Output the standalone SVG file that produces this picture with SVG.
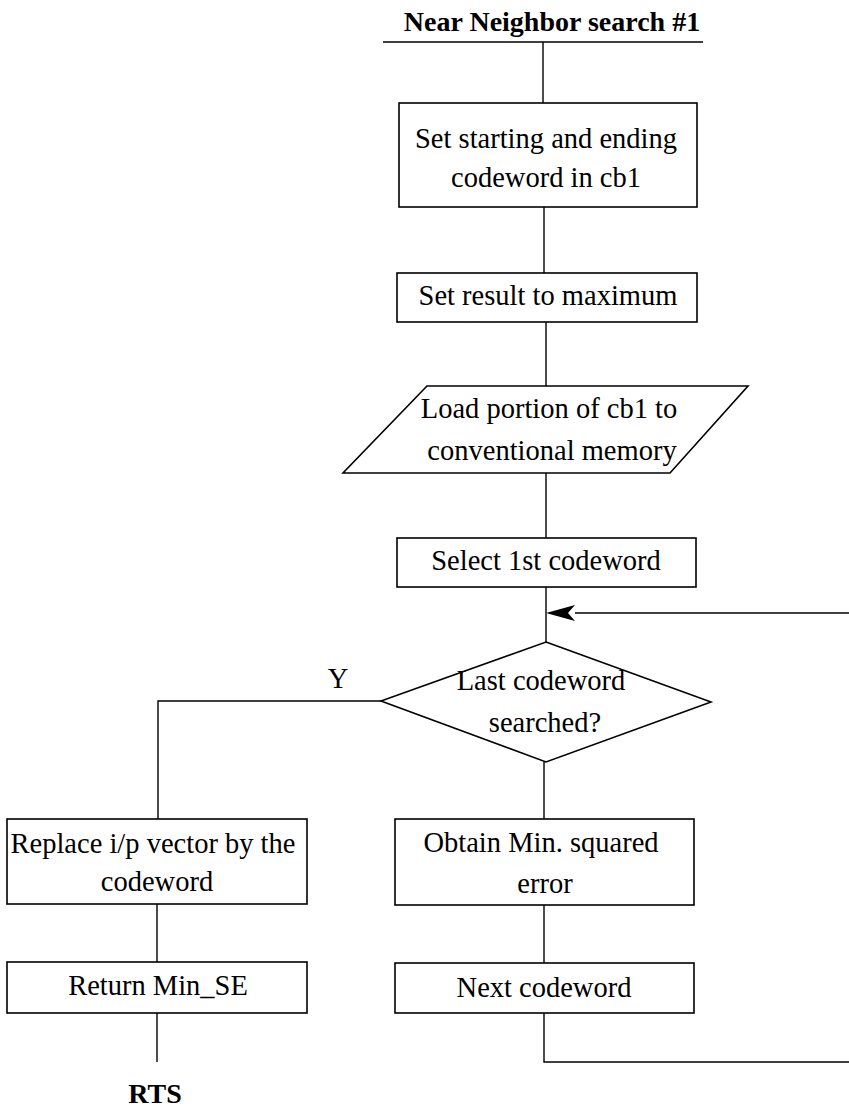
<svg xmlns="http://www.w3.org/2000/svg" width="849" height="1112" viewBox="0 0 849 1112">
  <style>
    .shape { fill: #ffffff; stroke: #000000; stroke-width: 1.6; }
    .wire { fill: none; stroke: #000000; stroke-width: 1.4; }
    .label { font-family: "Liberation Serif", "Times New Roman", serif; font-size: 28.5px; fill: #000000; text-anchor: middle; }
    .heading { font-family: "Liberation Serif", "Times New Roman", serif; font-size: 28px; font-weight: bold; fill: #000000; text-anchor: middle; }
  </style>
  <defs>
    <marker id="arrowhead" markerUnits="userSpaceOnUse" markerWidth="32" markerHeight="20" refX="0" refY="10" orient="auto-start-reverse">
      <path d="M0,10 L29,2 L22,10 L29,18 Z" fill="#000000"/>
    </marker>
  </defs>
  <rect width="849" height="1112" fill="#ffffff"/>

  <!-- connectors -->
  <g id="connectors">
    <line class="wire" x1="383" y1="42" x2="703" y2="42"/>
    <line class="wire" x1="543" y1="42" x2="543" y2="103"/>
    <line class="wire" x1="544" y1="207" x2="544" y2="273"/>
    <line class="wire" x1="546" y1="322" x2="546" y2="386"/>
    <line class="wire" x1="546" y1="473" x2="546" y2="538"/>
    <line class="wire" x1="546" y1="587" x2="546" y2="642"/>
    <!-- loop back from "Next codeword" -->
    <polyline class="wire" points="544,1013 544,1062 849,1062"/>
    <line class="wire" x1="849" y1="613" x2="575" y2="613"/>
    <path d="M546,613 L575,605 L568,613 L575,621 Z" fill="#000000"/>
    <!-- Y branch -->
    <polyline class="wire" points="381,701 158,701 158,819"/>
    <line class="wire" x1="157" y1="904" x2="157" y2="962"/>
    <line class="wire" x1="157" y1="1013" x2="157" y2="1062"/>
    <line class="wire" x1="544" y1="762" x2="544" y2="819"/>
    <line class="wire" x1="544" y1="905" x2="544" y2="963"/>
  </g>

  <g id="title">
    <text class="heading" x="552" y="31">Near Neighbor search #1</text>
  </g>

  <g id="set-range">
    <rect class="shape" x="399" y="103" width="298" height="104"/>
    <text class="label" x="546" y="148">Set starting and ending</text>
    <text class="label" x="546" y="187">codeword in cb1</text>
  </g>

  <g id="set-result">
    <rect class="shape" x="397" y="273" width="300" height="49"/>
    <text class="label" x="548" y="305">Set result to maximum</text>
  </g>

  <g id="load-portion">
    <polygon class="shape" points="427,386 748,386 670,473 343,473"/>
    <text class="label" x="549" y="418">Load portion of cb1 to</text>
    <text class="label" x="552" y="460">conventional memory</text>
  </g>

  <g id="select-first">
    <rect class="shape" x="397" y="538" width="299" height="49"/>
    <text class="label" x="546" y="570">Select 1st codeword</text>
  </g>

  <g id="last-check">
    <polygon class="shape" points="546,642 711,702 546,762 381,701"/>
    <text class="label" x="541" y="690">Last codeword</text>
    <text class="label" x="545" y="732">searched?</text>
    <text class="label" x="338" y="688">Y</text>
  </g>

  <g id="replace-vector">
    <rect class="shape" x="7" y="819" width="300" height="85"/>
    <text class="label" x="153" y="853">Replace i/p vector by the</text>
    <text class="label" x="157" y="891">codeword</text>
  </g>

  <g id="return-min">
    <rect class="shape" x="7" y="962" width="300" height="51"/>
    <text class="label" x="158" y="995">Return Min_SE</text>
  </g>

  <g id="rts">
    <text class="heading" x="155" y="1103">RTS</text>
  </g>

  <g id="min-error">
    <rect class="shape" x="395" y="819" width="299" height="86"/>
    <text class="label" x="541" y="852">Obtain Min. squared</text>
    <text class="label" x="545" y="893">error</text>
  </g>

  <g id="next-codeword">
    <rect class="shape" x="395" y="963" width="299" height="50"/>
    <text class="label" x="544" y="997">Next codeword</text>
  </g>
</svg>
